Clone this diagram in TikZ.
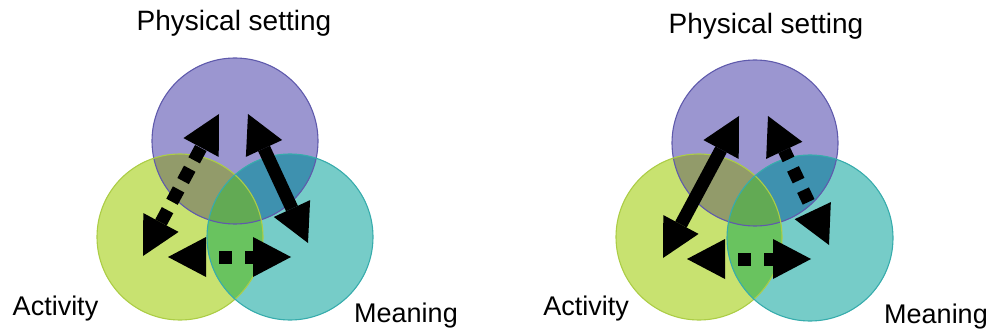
\documentclass[tikz,border=0pt]{standalone}
\usepackage{fontspec}
\setmainfont{Liberation Sans}
\usetikzlibrary{arrows.meta}

% circle fills and their pairwise / triple overlaps
\definecolor{physfill}{RGB}{155,150,208}
\definecolor{actfill}{RGB}{200,226,112}
\definecolor{meanfill}{RGB}{118,204,200}
\definecolor{physact}{RGB}{146,155,106}
\definecolor{physmean}{RGB}{62,145,175}
\definecolor{actmean}{RGB}{105,195,95}
\definecolor{allthree}{RGB}{98,170,84}
\definecolor{physedge}{RGB}{95,90,172}
\definecolor{actedge}{RGB}{172,205,70}
\definecolor{meanedge}{RGB}{55,172,172}

\tikzset{
  lbl/.style={font=\fontsize{27}{30}\selectfont, anchor=base, inner sep=0pt},
  toplbl/.style={lbl, font=\fontsize{28}{30}\selectfont},
  bigtip/.tip={Triangle[length=38pt,width=40pt,line width=0pt]},
  biarrow/.style={line width=13pt, line cap=butt, bigtip-bigtip},
  dotarrow/.style={biarrow, dash pattern=on 13pt off 13pt, dash phase=13pt},
  ringline/.style={line width=1.1pt},
}

% three overlapping circles around centres #1 (top), #2 (left), #3 (right)
\newcommand{\venntrio}[3]{%
  \fill[physfill] (#1) circle[radius=83pt];
  \fill[actfill]  (#2) circle[radius=83pt];
  \fill[meanfill] (#3) circle[radius=83pt];
  \begin{scope}
    \clip (#2) circle[radius=83pt];
    \fill[actmean] (#3) circle[radius=83pt];
  \end{scope}
  \begin{scope}
    \clip (#1) circle[radius=83pt];
    \fill[physact]  (#2) circle[radius=83pt];
    \fill[physmean] (#3) circle[radius=83pt];
    \clip (#2) circle[radius=83pt];
    \fill[allthree] (#3) circle[radius=83pt];
  \end{scope}
  \draw[ringline, physedge] (#1) circle[radius=83pt];
  \draw[ringline, actedge]  (#2) circle[radius=83pt];
  \draw[ringline, meanedge] (#3) circle[radius=83pt];
}

\begin{document}
\begin{tikzpicture}[x=1pt,y=-1pt]
  \useasboundingbox (0,0) rectangle (993,331);

  % ---------- left diagram ----------
  \coordinate (lP) at (235,141);
  \coordinate (lA) at (180,237);
  \coordinate (lM) at (290,237);
  \venntrio{lP}{lA}{lM}

  \coordinate (l1a) at (143,256);
  \coordinate (l1b) at (219,114);
  \coordinate (l2a) at (248,114);
  \coordinate (l2b) at (308,243);
  \coordinate (l3a) at (168,257);
  \coordinate (l3b) at (291,257);
  \draw[biarrow, dash pattern=on 14pt off 9.5pt] (l1a) -- (l1b);
  \draw[biarrow] (l2a) -- (l2b);
  \draw[dotarrow] (l3a) -- (l3b);

  \node[toplbl] (lphys) at (234,31) {Physical setting};
  \node[lbl] (lact) at (55.5,315) {Activity};
  \node[lbl] (lmean) at (406,322) {Meaning};

  % ---------- right diagram ----------
  \coordinate (rP) at (755,143);
  \coordinate (rA) at (699,237);
  \coordinate (rM) at (810,238);
  \venntrio{rP}{rA}{rM}

  \coordinate (r1a) at (739,116);
  \coordinate (r1b) at (663,258);
  \coordinate (r2a) at (768,116);
  \coordinate (r2b) at (829,245);
  \coordinate (r3a) at (687,259);
  \coordinate (r3b) at (811,259);
  \draw[biarrow] (r1a) -- (r1b);
  \draw[biarrow, dash pattern=on 13pt off 10.5pt, dash phase=3pt] (r2a) -- (r2b);
  \draw[dotarrow] (r3a) -- (r3b);

  \node[toplbl] (rphys) at (766,34) {Physical setting};
  \node[lbl] (ract) at (586,315) {Activity};
  \node[lbl] (rmean) at (936,323) {Meaning};
\end{tikzpicture}
\end{document}
